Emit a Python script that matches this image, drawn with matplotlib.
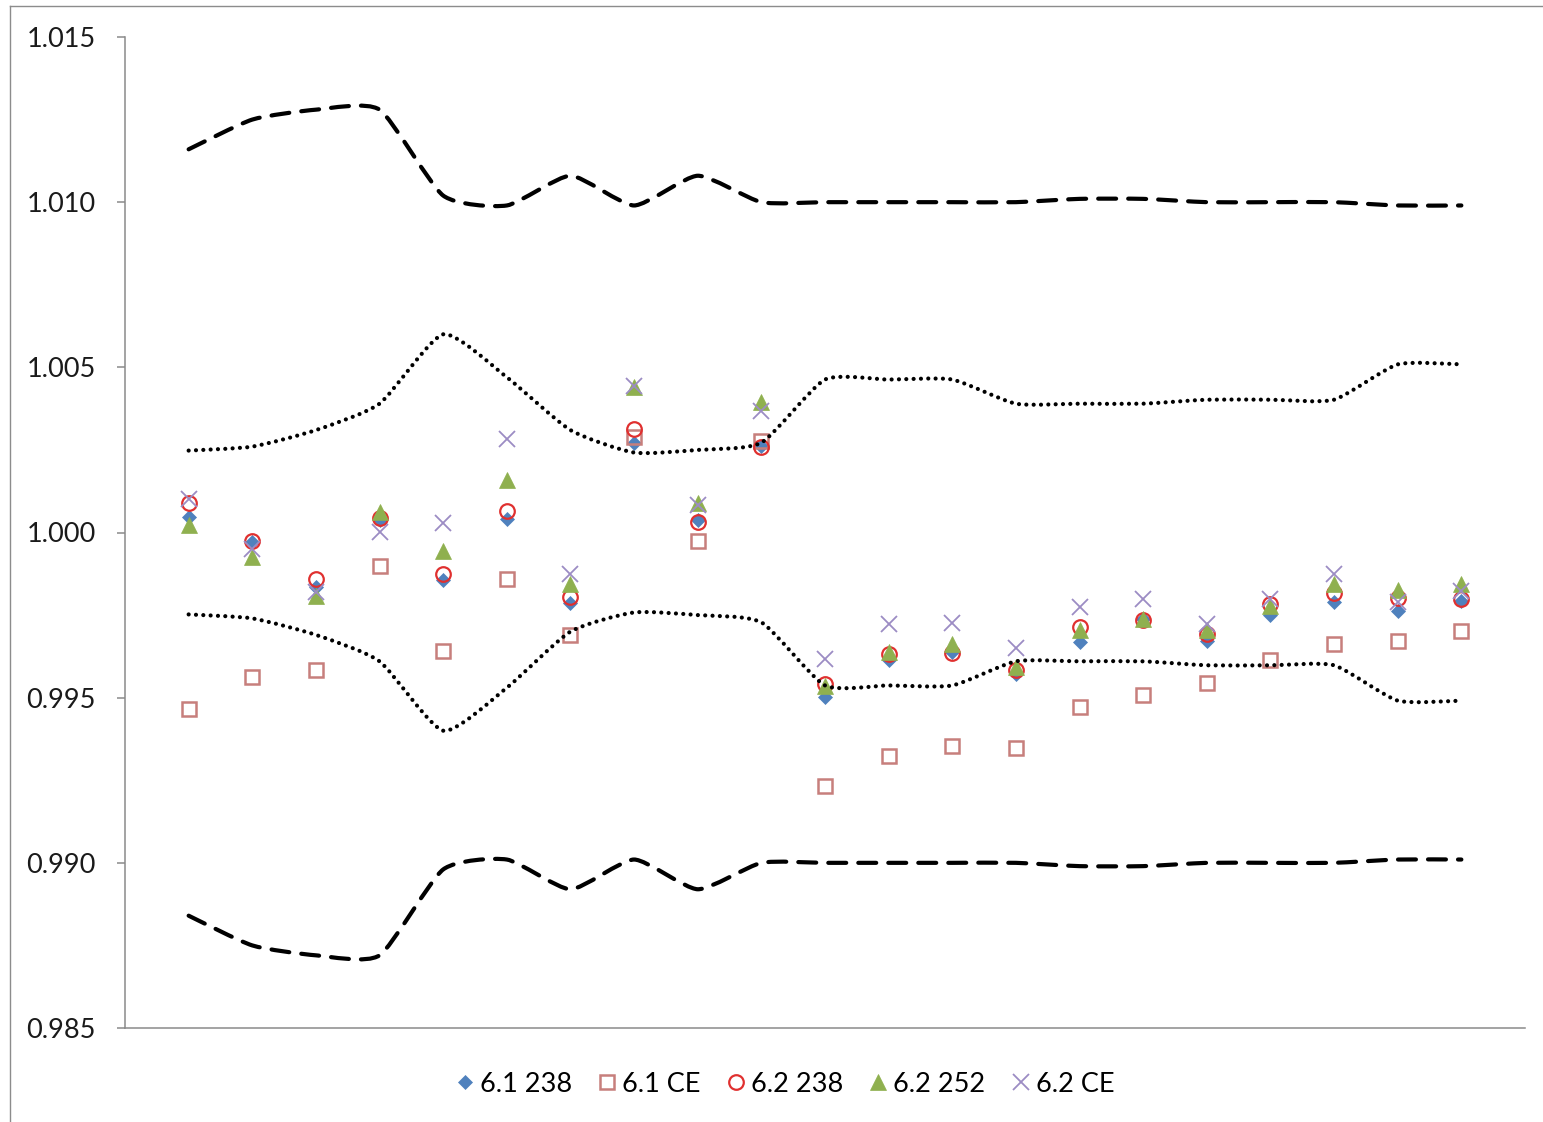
import numpy as np
import matplotlib
matplotlib.use("Agg")
import matplotlib.pyplot as plt
from matplotlib.path import Path
from matplotlib.patches import PathPatch
from matplotlib.lines import Line2D

# ---- data -------------------------------------------------------------
positions = list(range(1, 22))

s61_238 = [1.00048, 0.99970, 0.99835, 1.00039, 0.99855, 1.00041, 0.99786,
           1.00270, 1.00039, 1.00262, 0.99502, 0.99613, 0.99638, 0.99573,
           0.99668, 0.99739, 0.99671, 0.99749, 0.99789, 0.99762, 0.99792]
s61_ce = [0.99465, 0.99562, 0.99583, 0.99900, 0.99640, 0.99860, 0.99690,
          1.00290, 0.99974, 1.00276, 0.99232, 0.99323, 0.99353, 0.99348,
          0.99472, 0.99507, 0.99544, 0.99615, 0.99663, 0.99671, 0.99701]
s62_238 = [1.00089, 0.99973, 0.99860, 1.00044, 0.99875, 1.00065, 0.99806,
           1.00314, 1.00031, 1.00260, 0.99540, 0.99632, 0.99635, 0.99583,
           0.99714, 0.99736, 0.99693, 0.99784, 0.99816, 0.99802, 0.99799]
s62_252 = [1.00024, 0.99927, 0.99809, 1.00062, 0.99944, 1.00159, 0.99845,
           1.00440, 1.00089, 1.00394, 0.99535, 0.99638, 0.99663, 0.99593,
           0.99706, 0.99739, 0.99706, 0.99779, 0.99843, 0.99827, 0.99843]
s62_ce = [1.00102, 0.99951, 0.99819, 1.00001, 1.00028, 1.00283, 0.99873,
          1.00445, 1.00082, 1.00369, 0.99618, 0.99722, 0.99726, 0.99650,
          0.99774, 0.99799, 0.99724, 0.99799, 0.99875, 0.99789, 0.99824]

outer_upper = [1.0116, 1.0125, 1.0128, 1.0128, 1.0102, 1.0099, 1.0108,
               1.0099, 1.0108, 1.0100, 1.0100, 1.0100, 1.0100, 1.0100,
               1.0101, 1.0101, 1.0100, 1.0100, 1.0100, 1.0099, 1.0099]
outer_lower = [0.9884, 0.9875, 0.9872, 0.9872, 0.9898, 0.9901, 0.9892,
               0.9901, 0.9892, 0.9900, 0.9900, 0.9900, 0.9900, 0.9900,
               0.9899, 0.9899, 0.9900, 0.9900, 0.9900, 0.9901, 0.9901]
inner_upper = [1.00248, 1.00260, 1.00310, 1.00390, 1.00600, 1.00470, 1.00310,
               1.00242, 1.00250, 1.00272, 1.00463, 1.00463, 1.00463, 1.00390,
               1.00390, 1.00390, 1.00402, 1.00402, 1.00402, 1.00509, 1.00509]
inner_lower = [0.99752, 0.99740, 0.99690, 0.99610, 0.99400, 0.99530, 0.99700,
               0.99758, 0.99750, 0.99728, 0.99537, 0.99537, 0.99537, 0.99610,
               0.99610, 0.99610, 0.99598, 0.99598, 0.99598, 0.99491, 0.99491]

series_labels = ["6.1 238", "6.1 CE", "6.2 238", "6.2 252", "6.2 CE"]
y_ticks = [0.985, 0.990, 0.995, 1.000, 1.005, 1.010, 1.015]

# ---- style ------------------------------------------------------------
plt.rcParams["font.family"] = ["Lato", "DejaVu Sans"]

W, H = 1543, 1122
fig = plt.figure(figsize=(W / 100, H / 100), dpi=100)
ax = fig.add_axes([125 / W, 1 - 1028 / H, (1525 - 125) / W, (1028 - 37) / H])

ax.set_xlim(0, 22)
ax.set_ylim(0.985, 1.015)
ax.set_yticks(y_ticks)
ax.set_yticklabels([f"{t:.3f}" for t in y_ticks])
ax.set_xticks([])

for side in ("top", "right"):
    ax.spines[side].set_visible(False)
for side in ("left", "bottom"):
    ax.spines[side].set_color("#8a8a8a")
    ax.spines[side].set_linewidth(1.1)
ax.tick_params(axis="y", direction="out", length=6, width=1.1, color="#8a8a8a",
               pad=15, labelsize=19.5, labelcolor="#1a1a1a")


def smooth_path(xs, ys, tension=0.1):
    """Cubic Bezier path through the points (spreadsheet-style smoothed line)."""
    pts = np.column_stack([xs, ys]).astype(float)
    n = len(pts)
    verts = [pts[0]]
    codes = [Path.MOVETO]
    for i in range(n - 1):
        p0 = pts[i - 1] if i > 0 else pts[i]
        p1, p2 = pts[i], pts[i + 1]
        p3 = pts[i + 2] if i + 2 < n else pts[i + 1]
        verts += [p1 + (p2 - p0) * tension, p2 - (p3 - p1) * tension, p2]
        codes += [Path.CURVE4] * 3
    return Path(verts, codes)


# ---- series markers ---------------------------------------------------
ax.plot(positions, s61_238, linestyle="none", marker="D", markersize=7.2,
        color="#4f81bd", markeredgewidth=0.5, label=series_labels[0], zorder=3)
ax.plot(positions, s61_ce, linestyle="none", marker="s", markersize=10.5,
        markerfacecolor="none", markeredgecolor="#c77f7c", markeredgewidth=1.8,
        label=series_labels[1], zorder=3)
ax.plot(positions, s62_238, linestyle="none", marker="o", markersize=10.5,
        markerfacecolor="none", markeredgecolor="#e0302f", markeredgewidth=1.6,
        label=series_labels[2], zorder=3)
ax.plot(positions, s62_252, linestyle="none", marker="^", markersize=11,
        color="#8fb04f", markeredgewidth=0.5, label=series_labels[3], zorder=3)
ax.plot(positions, s62_ce, linestyle="none", marker="x", markersize=11,
        color="#9c8cc4", markeredgewidth=1.3, label=series_labels[4], zorder=3)

# ---- limit curves -----------------------------------------------------
for band in (outer_upper, outer_lower):
    ax.add_patch(PathPatch(smooth_path(positions, band), fill=False,
                           edgecolor="black", linewidth=3.0,
                           linestyle=(0, (4.3, 2.9)), capstyle="round",
                           zorder=4))
for band in (inner_upper, inner_lower):
    ax.add_patch(PathPatch(smooth_path(positions, band), fill=False,
                           edgecolor="black", linewidth=3.0,
                           linestyle=(0, (0.01, 1.75)), capstyle="round",
                           zorder=4))

# ---- legend -----------------------------------------------------------
handles, labels = ax.get_legend_handles_labels()
fig.legend(handles, labels, loc="center", bbox_to_anchor=(785 / W, 1 - 1084 / H),
           ncol=5, frameon=False, fontsize=19.5, handlelength=0.7,
           handletextpad=0.2, columnspacing=0.95, borderaxespad=0)

# ---- outer frame (left and top edges) ---------------------------------
fig.add_artist(Line2D([9.5 / W, 9.5 / W], [0, 1 - 6 / H], transform=fig.transFigure,
                      color="#8c8c8c", linewidth=1.0))
fig.add_artist(Line2D([9.5 / W, 1], [1 - 6 / H, 1 - 6 / H], transform=fig.transFigure,
                      color="#8c8c8c", linewidth=1.0))

fig.savefig("out.png", dpi=100)
